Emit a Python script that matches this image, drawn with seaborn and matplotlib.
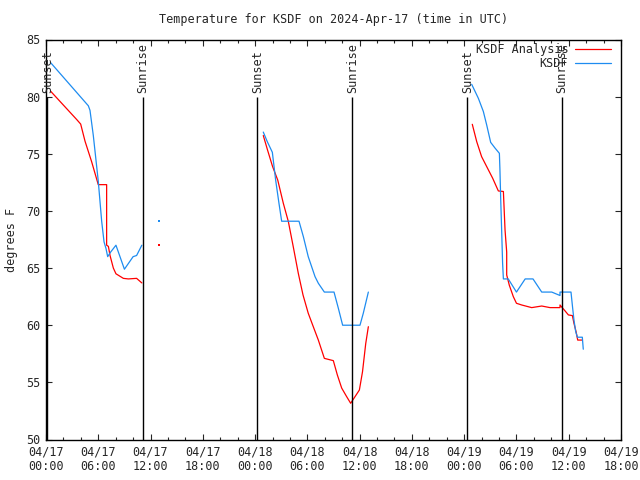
import matplotlib
matplotlib.use("Agg")
import matplotlib.pyplot as plt
import seaborn as sns
import pandas as pd
import numpy as np

# ---- data (hours since 2024-04-17 00:00 UTC, temperature in F) ----
obs_seg1_h = [0.5, 4.86, 5.05, 5.43, 6.0, 6.39, 6.66, 6.89, 7.08, 7.42, 8.03, 9.0, 10.0, 10.4, 11.0]
obs_seg1_t = [83.0, 79.2, 78.8, 76.6, 72.6, 69.1, 67.3, 66.7, 66.0, 66.4, 67.0, 64.9, 66.0, 66.1, 67.0]
obs_seg2_h = [24.94, 25.4, 25.98, 26.36, 26.74, 27.05, 29.04, 29.54, 30.1, 30.88, 31.26, 31.95, 33.06, 33.55, 34.05, 36.04, 36.42, 37.0]
obs_seg2_t = [76.9, 76.06, 75.13, 72.7, 70.67, 69.1, 69.1, 67.75, 66.0, 64.25, 63.67, 62.9, 62.9, 61.5, 60.0, 60.0, 61.05, 62.9]
obs_seg3_h = [48.86, 49.63, 50.2, 50.59, 51.04, 51.54, 52.04, 52.1, 52.19, 52.3, 52.41, 52.5, 53.06, 54.0, 55.0, 55.9,
              56.9, 58.05, 59.0, 59.0, 60.26, 60.45, 60.6, 60.8, 61.0, 61.56, 61.67]
obs_seg3_t = [81.08, 79.85, 78.7, 77.5, 76.0, 75.5, 75.04, 73.7, 71.1, 68.33, 65.42, 64.05, 64.05, 62.9, 64.05, 64.05,
              62.9, 62.9, 62.6, 62.9, 62.9, 61.5, 60.46, 59.44, 58.95, 58.95, 57.9]
obs_dot_h = [13.0]
obs_dot_t = [69.1]

ana_seg1_h = [0.5, 3.52, 3.98, 4.48, 5.24, 6.0, 6.96, 6.96, 7.16, 7.35, 7.73, 8.03, 8.88, 9.45, 10.4, 11.0]
ana_seg1_t = [80.5, 78.0, 77.6, 76.1, 74.3, 72.3, 72.3, 67.0, 66.9, 66.1, 65.0, 64.5, 64.1, 64.05, 64.1, 63.7]
ana_seg2_h = [24.94, 25.44, 26.0, 26.6, 27.24, 27.82, 28.38, 28.96, 29.5, 30.1, 30.68, 31.26, 31.95, 32.98, 33.44,
              33.94, 34.51, 34.97, 35.47, 35.97, 36.33, 36.7, 37.0]
ana_seg2_t = [76.6, 75.3, 73.9, 72.7, 70.67, 69.06, 66.87, 64.54, 62.65, 61.05, 59.87, 58.7, 57.1, 56.9, 55.65,
              54.5, 53.75, 53.17, 53.75, 54.33, 55.93, 58.4, 59.87]
ana_seg3_h = [48.93, 49.44, 50.0, 50.59, 51.27, 51.92, 52.5, 52.69, 52.88, 52.88, 53.18, 53.64, 54.0, 54.6, 55.75,
              56.9, 57.85, 59.0, 59.0, 59.58, 59.96, 60.42, 60.6, 60.84, 61.03, 61.56]
ana_seg3_t = [77.58, 76.06, 74.75, 73.87, 72.86, 71.75, 71.7, 68.33, 66.4, 64.4, 63.5, 62.5, 61.92, 61.77, 61.54,
              61.68, 61.54, 61.54, 61.77, 61.25, 60.9, 60.84, 60.17, 59.44, 58.7, 58.7]
ana_dot_h = [13.0]
ana_dot_t = [67.0]

sun_events_h = [0.15, 11.16, 24.26, 35.17, 48.37, 59.2]
sun_events_label = ["Sunset", "Sunrise", "Sunset", "Sunrise", "Sunset", "Sunrise"]

tick_hours = list(range(0, 67, 6))
tick_labels = ["04/17\n00:00", "04/17\n06:00", "04/17\n12:00", "04/17\n18:00",
               "04/18\n00:00", "04/18\n06:00", "04/18\n12:00", "04/18\n18:00",
               "04/19\n00:00", "04/19\n06:00", "04/19\n12:00", "04/19\n18:00"]

title = "Temperature for KSDF on 2024-Apr-17 (time in UTC)"
ana_name = "KSDF Analysis"
obs_name = "KSDF"
colors = {ana_name: "#ff0000", obs_name: "#1e8cf0"}

# ---- build table ----
rows = []
for name, segs in [(ana_name, [(ana_seg1_h, ana_seg1_t), (ana_seg2_h, ana_seg2_t), (ana_seg3_h, ana_seg3_t)]),
                   (obs_name, [(obs_seg1_h, obs_seg1_t), (obs_seg2_h, obs_seg2_t), (obs_seg3_h, obs_seg3_t)])]:
    for i, (hh, tt) in enumerate(segs):
        for h, t in zip(hh, tt):
            rows.append({"hour": h, "temp": t, "series": name, "seg": i})
df = pd.DataFrame(rows)
dots = pd.DataFrame({"hour": ana_dot_h + obs_dot_h, "temp": ana_dot_t + obs_dot_t,
                     "series": [ana_name] * len(ana_dot_h) + [obs_name] * len(obs_dot_h)})

sns.set_style("ticks")
plt.rcParams["font.family"] = ["DejaVu Sans Mono"]
plt.rcParams["font.size"] = 8.5

fig = plt.figure(figsize=(6.4, 4.8), dpi=100)
ax = fig.add_axes([46 / 640, 1 - 439.5 / 480, 575 / 640, 400 / 480])

sns.lineplot(data=df, x="hour", y="temp", hue="series", units="seg", estimator=None,
             palette=colors, hue_order=[ana_name, obs_name], linewidth=0.9, ax=ax, sort=False)
sns.scatterplot(data=dots, x="hour", y="temp", hue="series", palette=colors, s=2,
                marker="s", linewidth=0, legend=False, ax=ax)

for h, lab in zip(sun_events_h, sun_events_label):
    ax.vlines(h, 50, 80, color="black", linewidth=1.0)
    ax.text(h, 80.35, lab, rotation=90, ha="center", va="bottom", fontsize=8.5)

ax.set_xlim(0, 66)
ax.set_ylim(50, 85)
ax.set_xticks(tick_hours)
ax.set_xticklabels(tick_labels)
ax.set_xticks(list(range(0, 67, 2)), minor=True)
ax.set_yticks(list(range(50, 86, 5)))
ax.tick_params(axis="both", which="major", direction="in", length=4, width=0.8,
               top=True, right=True, labelsize=8.5, pad=4)
ax.tick_params(axis="x", which="minor", direction="in", length=2, width=0.8, top=True)
for sp in ax.spines.values():
    sp.set_color("black")
    sp.set_linewidth(1.0)
ax.set_xlabel("")
ax.set_ylabel("")
fig.text(11 / 640, 1 - 240 / 480, "degrees F", rotation=90, ha="center", va="center", fontsize=8.5)
fig.text(333.5 / 640, 1 - 19 / 480, title, ha="center", va="center", fontsize=8.5)

leg = ax.legend(loc="upper right", bbox_to_anchor=(0.982, 0.992), frameon=False,
                markerfirst=False, handlelength=3.0, labelspacing=0.15, borderpad=0,
                borderaxespad=0, fontsize=8.5, handletextpad=0.6)

fig.savefig("out.png", dpi=100)
